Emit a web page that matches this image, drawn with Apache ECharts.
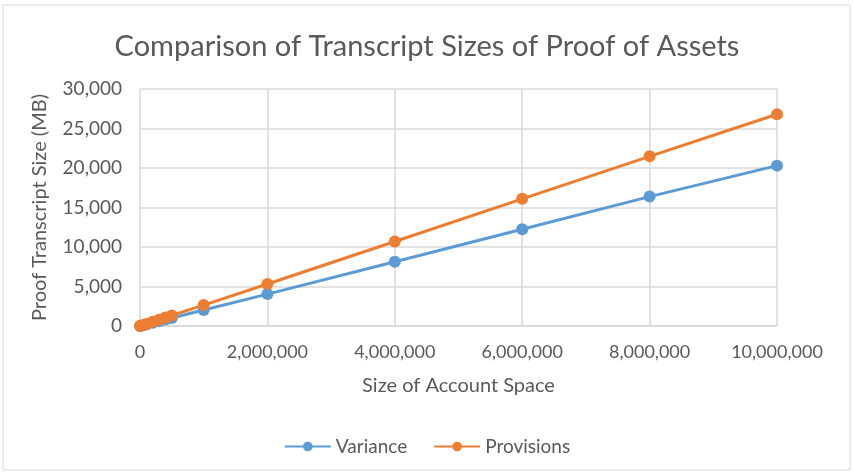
<!DOCTYPE html>
<html>
<head>
<meta charset="utf-8">
<script src="https://cdn.jsdelivr.net/npm/echarts@6/dist/echarts.min.js"></script>
<style>
  html, body { margin: 0; padding: 0; background: #fff; }
  #chart { width: 854px; height: 476px; }
</style>
</head>
<body>
<div id="chart"></div>
<script>
// account space sizes (x) and transcript sizes in MB (y)
const accountSizes = [1000, 10000, 50000, 100000, 200000, 300000, 400000, 500000, 1000000, 2000000, 4000000, 6000000, 8000000, 10000000];
const varianceMB = [2, 20, 102, 203, 406, 609, 812, 1015, 2030, 4040, 8130, 12250, 16380, 20300];
const provisionsMB = [3, 27, 134, 268, 536, 804, 1072, 1340, 2650, 5320, 10700, 16100, 21480, 26800];

const textColor = '#595959';
const fontFamily = 'Lato, "Open Sans", sans-serif';

function toPairs(xs, ys) {
  return xs.map((x, i) => [x, ys[i]]);
}

const chart = echarts.init(document.getElementById('chart'));

chart.setOption({
  animation: false,
  textStyle: { fontFamily: fontFamily, color: textColor },
  graphic: [
    {
      type: 'rect',
      shape: { x: 3, y: 5, width: 847, height: 465 },
      style: { fill: 'none', stroke: '#d9d9d9', lineWidth: 1 },
      silent: true,
    },
  ],
  title: {
    text: 'Comparison of Transcript Sizes of Proof of Assets',
    left: 'center',
    top: 27,
    textStyle: { fontFamily: fontFamily, fontSize: 29, fontWeight: 'normal', color: textColor },
  },
  grid: { left: 140, right: 77, top: 89, bottom: 150 },
  legend: {
    top: 432,
    left: 'center',
    itemWidth: 46,
    itemHeight: 12,
    itemGap: 26,
    textStyle: { fontFamily: fontFamily, fontSize: 19, color: textColor },
    data: ['Variance', 'Provisions'],
  },
  xAxis: {
    type: 'value',
    min: 0,
    max: 10000000,
    interval: 2000000,
    name: 'Size of Account Space',
    nameLocation: 'middle',
    nameGap: 50,
    nameTextStyle: { fontFamily: fontFamily, fontSize: 20, color: textColor },
    axisLine: { show: true, lineStyle: { color: '#d9d9d9', width: 1.5 } },
    axisTick: { show: false },
    axisLabel: {
      fontFamily: fontFamily,
      fontSize: 18,
      color: textColor,
      margin: 17,
      formatter: (v) => v.toLocaleString('en-US'),
    },
    splitLine: { show: true, lineStyle: { color: '#d9d9d9', width: 1.5 } },
  },
  yAxis: {
    type: 'value',
    min: 0,
    max: 30000,
    interval: 5000,
    name: 'Proof Transcript Size (MB)',
    nameLocation: 'middle',
    nameGap: 90,
    nameTextStyle: { fontFamily: fontFamily, fontSize: 20, color: textColor },
    axisLine: { show: false },
    axisTick: { show: false },
    axisLabel: {
      fontFamily: fontFamily,
      fontSize: 19,
      color: textColor,
      margin: 18,
      formatter: (v) => v.toLocaleString('en-US'),
    },
    splitLine: { show: true, lineStyle: { color: '#d9d9d9', width: 1.5 } },
  },
  series: [
    {
      name: 'Variance',
      type: 'line',
      data: toPairs(accountSizes, varianceMB),
      symbol: 'circle',
      symbolSize: 12,
      color: '#5b9bd5',
      lineStyle: { width: 3, color: '#5b9bd5' },
      itemStyle: { color: '#5b9bd5' },
    },
    {
      name: 'Provisions',
      type: 'line',
      data: toPairs(accountSizes, provisionsMB),
      symbol: 'circle',
      symbolSize: 12,
      color: '#ed7d31',
      lineStyle: { width: 3, color: '#ed7d31' },
      itemStyle: { color: '#ed7d31' },
    },
  ],
});
</script>
</body>
</html>
